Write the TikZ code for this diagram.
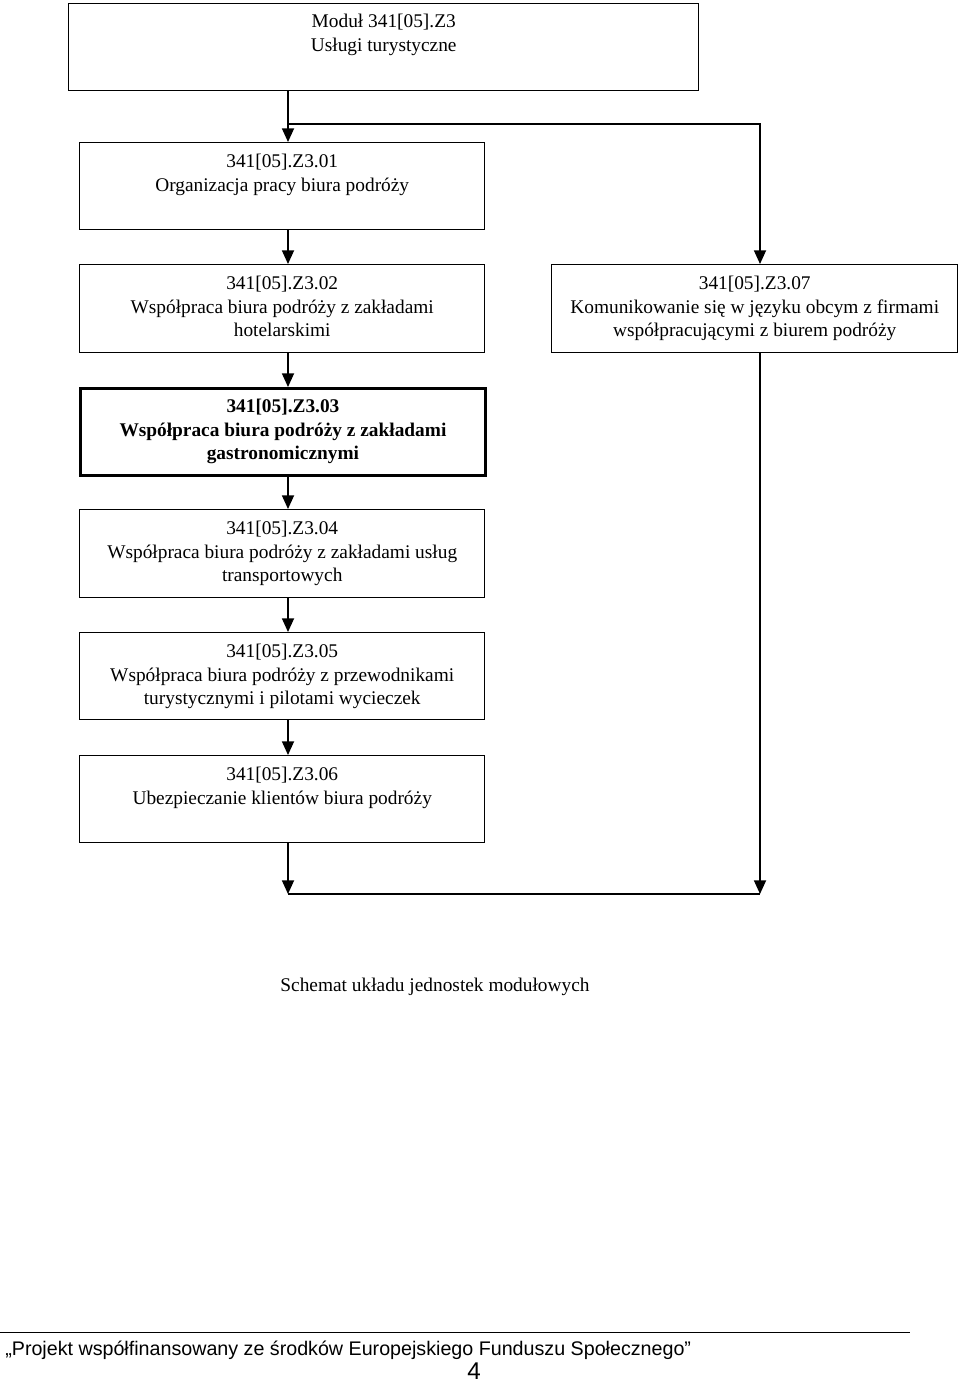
\documentclass[tikz,border=0pt]{standalone}
\usepackage{fontspec}
\setmainfont{Liberation Serif}
\setsansfont{Liberation Sans}
\usetikzlibrary{arrows.meta}
\newcommand{\topstrut}{\rule{0pt}{12pt}}
\begin{document}
\begin{tikzpicture}[x=0.62pt,y=-0.62pt,
  box/.style 2 args={draw, line width=0.9pt, minimum width=#1*0.62pt, minimum height=#2*0.62pt, anchor=north west, inner sep=0pt},
  txt/.style={anchor=north, align=center, inner sep=0pt, font=\fontsize{12}{14.6}\selectfont},
  arr/.style={line width=0.9pt, -{Triangle[width=7.5pt,length=8.5pt]}},
  ln/.style={line width=0.9pt}]
\useasboundingbox (0,0) rectangle (960,1382);
\coordinate (colL) at (288,0);
\coordinate (colR) at (760,0);
\coordinate (br) at (288,124);
\coordinate (merge) at (0,894);
% boxes
\node[box={630}{87}] (b0) at (68,3) {};
\node[box={405}{87}] (b1) at (79,142) {};
\node[box={405}{88}] (b2) at (79,264) {};
\node[box={406}{88}] (b7) at (551,264) {};
\node[box={405}{87}, line width=1.8pt] (b3) at (79,387) {};
\node[box={405}{88}] (b4) at (79,509) {};
\node[box={405}{87}] (b5) at (79,632) {};
\node[box={405}{87}] (b6) at (79,755) {};
% texts
\node[txt] (t0) at ([yshift=-5*0.62pt]b0.north) {\topstrut Moduł 341[05].Z3\\Usługi turystyczne};
\node[txt] (t1) at ([yshift=-6*0.62pt]b1.north) {\topstrut 341[05].Z3.01\\Organizacja pracy biura podróży};
\node[txt] (t2) at ([yshift=-6*0.62pt]b2.north) {\topstrut 341[05].Z3.02\\Współpraca biura podróży z zakładami\\hotelarskimi};
\node[txt] (t7) at ([yshift=-6*0.62pt]b7.north) {\topstrut 341[05].Z3.07\\Komunikowanie się w języku obcym z firmami\\współpracującymi z biurem podróży};
\node[txt, font=\fontsize{12}{14.6}\selectfont\bfseries] (t3) at ([yshift=-6*0.62pt]b3.north) {\topstrut 341[05].Z3.03\\Współpraca biura podróży z zakładami\\gastronomicznymi};
\node[txt] (t4) at ([yshift=-6*0.62pt]b4.north) {\topstrut 341[05].Z3.04\\Współpraca biura podróży z zakładami usług\\transportowych};
\node[txt] (t5) at ([yshift=-6*0.62pt]b5.north) {\topstrut 341[05].Z3.05\\Współpraca biura podróży z przewodnikami\\turystycznymi i pilotami wycieczek};
\node[txt] (t6) at ([yshift=-6*0.62pt]b6.north) {\topstrut 341[05].Z3.06\\Ubezpieczanie klientów biura podróży};
% connectors
\draw[arr] (b0.south -| colL) -- (b1.north -| colL);
\draw[arr] (br) -| (b7.north -| colR);
\draw[arr] (b1.south -| colL) -- (b2.north -| colL);
\draw[arr] (b2.south -| colL) -- (b3.north -| colL);
\draw[arr] (b3.south -| colL) -- (b4.north -| colL);
\draw[arr] (b4.south -| colL) -- (b5.north -| colL);
\draw[arr] (b5.south -| colL) -- (b6.north -| colL);
\draw[arr] (b6.south -| colL) -- (merge -| colL);
\draw[arr] (b7.south -| colR) -- (merge -| colR);
\draw[ln] (merge -| colL) -- (merge -| colR);
% caption
\node[anchor=base, inner sep=0pt, font=\fontsize{12}{14.6}\selectfont] (cap) at (435,991) {Schemat układu jednostek modułowych};
% footer
\coordinate (fl) at (0,1332);
\coordinate (fr) at (910,1332);
\draw[line width=0.6pt] (fl) -- (fr);
\node[anchor=base west, inner sep=0pt, font=\sffamily\fontsize{12.2}{14}\selectfont] (foot) at (5,1355) {„Projekt współfinansowany ze środków Europejskiego Funduszu Społecznego”};
\node[anchor=base, inner sep=0pt, font=\sffamily\fontsize{15}{17}\selectfont] (pg) at (474,1379) {4};
\end{tikzpicture}
\end{document}
